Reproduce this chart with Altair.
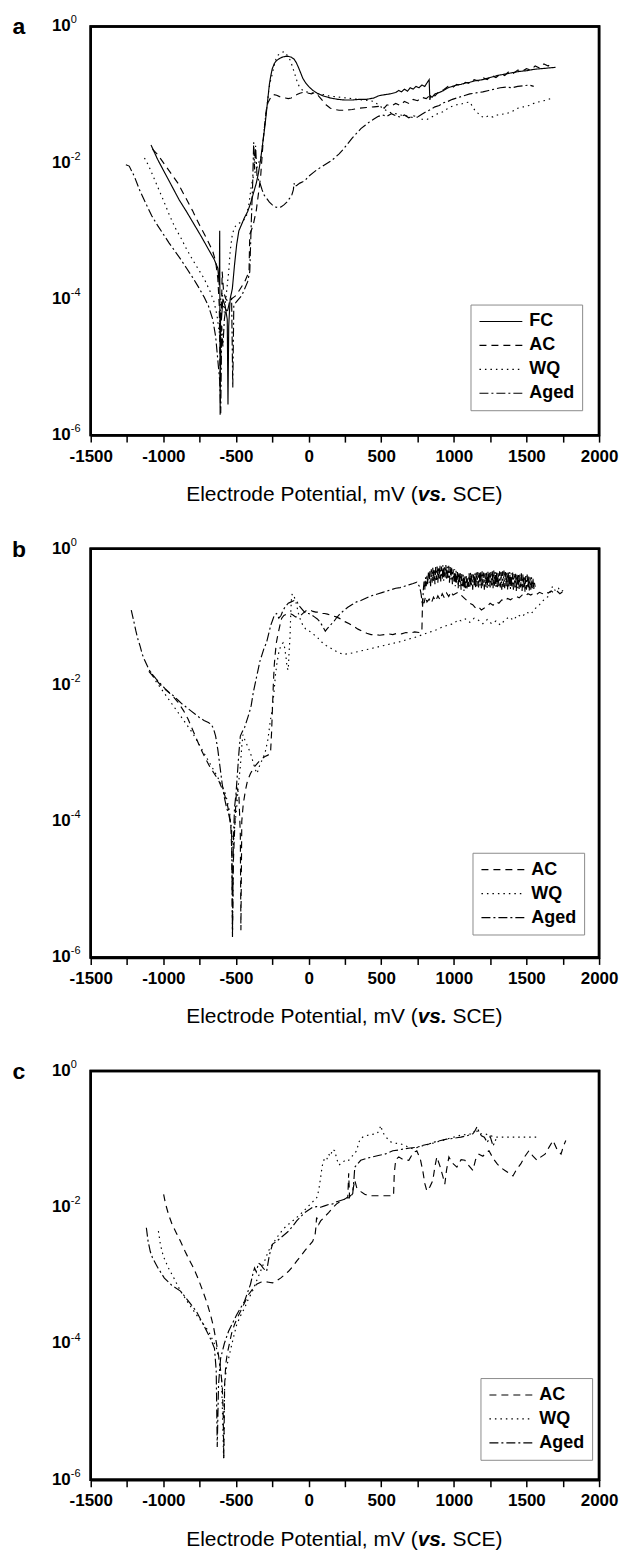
import math
import altair as alt
import pandas as pd

# ---------------- data: (potential mV, log10 current density mA/cm2) ----------------
A_FC = [(-1085,-1.74),(-1040,-1.95),(-990,-2.15),(-940,-2.35),(-890,-2.55),(-840,-2.72),(-790,-2.9),
        (-740,-3.08),(-690,-3.27),(-650,-3.42),(-625,-3.55),(-615,-3.8),(-612,-3.0),(-609,-5.7),(-606,-4.2),
        (-600,-4.3),(-590,-4.0),(-575,-4.1),(-560,-4.3),(-555,-5.55),(-550,-4.4),(-540,-4.0),(-525,-3.85),
        (-510,-3.5),(-495,-3.2),(-480,-3.0),(-460,-2.9),(-440,-2.8),(-420,-2.72),(-400,-2.6),(-380,-2.45),
        (-360,-2.3),(-345,-2.15),(-330,-1.95),(-315,-1.7),(-300,-1.45),(-290,-1.25),(-280,-1.05),(-270,-0.85),
        (-260,-0.72),(-250,-0.62),(-235,-0.54),(-220,-0.5),(-200,-0.47),(-180,-0.45),(-160,-0.44),(-140,-0.44),
        (-120,-0.45),(-100,-0.48),(-85,-0.53),(-70,-0.6),(-55,-0.68),(-40,-0.76),(-20,-0.83),(0,-0.88),(30,-0.94),
        (60,-0.98),(100,-1.02),(150,-1.05),(200,-1.07),(250,-1.08),(300,-1.08),(350,-1.07),(400,-1.07),
        (450,-1.05),(480,-1.02),(500,-1.01),(530,-1.0),(560,-0.99),(600,-0.97),(620,-0.94),(640,-0.96),
        (660,-0.92),(680,-0.95),(700,-0.9),(720,-0.92),(740,-0.88),(760,-0.9),(780,-0.86),(800,-0.88),
        (830,-0.78),(835,-1.08),(840,-1.02),(850,-1.04),(870,-0.99),(900,-0.97),(930,-0.94),(960,-0.9),
        (990,-0.88),(1020,-0.86),(1050,-0.85),(1080,-0.83),(1110,-0.82),(1140,-0.8),(1170,-0.79),(1200,-0.78),
        (1250,-0.75),(1300,-0.72),(1350,-0.7),(1400,-0.68),(1450,-0.66),(1500,-0.65),(1550,-0.63),(1600,-0.62),
        (1650,-0.61),(1700,-0.6)]

A_AC = [(-1075,-1.8),(-1040,-1.88),(-1000,-2.0),(-950,-2.15),(-900,-2.3),(-850,-2.5),(-800,-2.7),(-750,-2.92),
        (-700,-3.12),(-660,-3.3),(-640,-3.45),(-625,-3.7),(-615,-4.1),(-608,-5.3),(-600,-4.2),(-595,-3.6),
        (-585,-3.9),(-570,-4.0),(-550,-4.05),(-530,-4.0),(-500,-3.95),(-470,-3.85),(-440,-3.75),(-420,-3.65),
        (-410,-3.6),(-405,-3.05),(-395,-3.0),(-380,-2.9),(-360,-2.7),(-345,-2.45),(-330,-2.2),(-320,-1.9),
        (-310,-1.6),(-300,-1.4),(-290,-1.2),(-280,-1.12),(-270,-1.08),(-255,-1.02),(-240,-1.0),(-220,-1.01),
        (-200,-1.03),(-180,-1.04),(-160,-1.05),(-140,-1.06),(-120,-1.05),(-100,-1.03),(-80,-1.0),(-60,-0.98),
        (-40,-0.97),(-20,-0.97),(0,-0.98),(20,-0.99),(40,-0.97),(60,-1.0),(80,-1.05),(100,-1.1),(120,-1.15),
        (150,-1.2),(180,-1.22),(210,-1.23),(250,-1.23),(300,-1.22),(350,-1.2),(400,-1.19),(450,-1.18),
        (500,-1.17),(520,-1.2),(540,-1.15),(570,-1.17),(600,-1.13),(630,-1.16),(660,-1.1),(690,-1.13),
        (720,-1.07),(750,-1.09),(780,-1.04),(810,-1.06),(840,-1.0),(870,-1.02),(900,-0.95),(930,-0.93),
        (960,-0.88),(990,-0.9),(1020,-0.85),(1050,-0.87),(1080,-0.82),(1110,-0.84),(1140,-0.78),(1170,-0.8),
        (1200,-0.75),(1230,-0.78),(1260,-0.72),(1290,-0.75),(1320,-0.7),(1350,-0.72),(1380,-0.66),(1410,-0.69),
        (1440,-0.64),(1470,-0.66),(1500,-0.62),(1530,-0.64),(1560,-0.58),(1590,-0.61),(1620,-0.55),(1650,-0.58),
        (1680,-0.52)]

A_WQ = [(-1130,-1.93),(-1100,-2.05),(-1050,-2.3),(-1000,-2.55),(-960,-2.76),(-920,-2.95),(-880,-3.1),
        (-840,-3.27),(-800,-3.42),(-760,-3.56),(-720,-3.7),(-680,-3.88),(-650,-4.05),(-630,-4.25),(-615,-4.5),
        (-605,-4.0),(-595,-3.9),(-580,-4.2),(-565,-3.9),(-550,-3.6),(-540,-3.3),(-525,-3.05),(-510,-2.95),
        (-490,-2.9),(-470,-2.88),(-450,-2.85),(-430,-2.8),(-410,-2.6),(-395,-2.35),(-380,-2.2),(-360,-2.1),
        (-345,-2.0),(-330,-1.95),(-315,-1.7),(-305,-1.5),(-295,-1.3),(-285,-1.15),(-275,-0.95),(-265,-0.82),
        (-255,-0.74),(-240,-0.6),(-225,-0.48),(-210,-0.42),(-195,-0.4),(-180,-0.38),(-168,-0.37),(-155,-0.4),
        (-140,-0.45),(-125,-0.5),(-110,-0.6),(-95,-0.7),(-80,-0.8),(-65,-0.88),(-45,-0.93),(-20,-0.96),
        (10,-0.97),(40,-0.98),(70,-0.99),(100,-1.0),(140,-1.02),(180,-1.03),(220,-1.04),(260,-1.05),
        (300,-1.06),(340,-1.07),(380,-1.08),(420,-1.09),(450,-1.1),(480,-1.15),(510,-1.2),(540,-1.24),
        (570,-1.27),(600,-1.28),(630,-1.3),(660,-1.31),(690,-1.32),(720,-1.34),(750,-1.33),(780,-1.36),
        (810,-1.37),(840,-1.34),(870,-1.3),(900,-1.27),(930,-1.25),(960,-1.2),(990,-1.17),(1020,-1.15),
        (1050,-1.14),(1080,-1.12),(1110,-1.11),(1130,-1.18),(1150,-1.25),(1170,-1.28),(1190,-1.32),
        (1210,-1.34),(1240,-1.31),(1270,-1.33),(1300,-1.3),(1330,-1.29),(1360,-1.28),(1400,-1.25),
        (1440,-1.2),(1480,-1.18),(1520,-1.16),(1560,-1.12),(1600,-1.1),(1640,-1.08),(1680,-1.05)]

A_AGED = [(-1258,-2.03),(-1235,-2.05),(-1200,-2.2),(-1160,-2.42),(-1120,-2.6),(-1080,-2.78),(-1040,-2.92),
          (-1000,-3.05),(-960,-3.18),(-920,-3.3),(-880,-3.42),(-840,-3.55),(-800,-3.68),(-760,-3.82),
          (-720,-3.97),(-690,-4.1),(-660,-4.3),(-640,-4.55),(-625,-4.9),(-612,-5.2),(-605,-5.68),(-598,-4.4),
          (-590,-4.7),(-580,-4.3),(-570,-4.15),(-560,-4.2),(-545,-4.05),(-530,-4.0),(-522,-5.3),(-515,-4.1),
          (-500,-4.05),(-480,-4.0),(-460,-3.95),(-440,-3.85),(-420,-3.75),(-405,-3.6),(-395,-2.9),
          (-385,-2.3),(-378,-1.7),(-372,-2.1),(-365,-1.75),(-355,-2.2),(-345,-2.25),(-335,-2.3),(-320,-2.4),
          (-305,-2.48),(-290,-2.52),(-270,-2.58),(-250,-2.62),(-230,-2.65),(-210,-2.66),(-190,-2.65),
          (-170,-2.62),(-150,-2.58),(-130,-2.52),(-115,-2.47),(-105,-2.4),(-100,-2.3),(-95,-2.35),(-80,-2.33),
          (-60,-2.3),(-40,-2.28),(-20,-2.25),(0,-2.2),(30,-2.15),(60,-2.1),(90,-2.06),(120,-2.02),(150,-1.98),
          (180,-1.93),(210,-1.87),(240,-1.8),(270,-1.72),(300,-1.64),(330,-1.57),(360,-1.5),(390,-1.45),
          (420,-1.4),(450,-1.36),(480,-1.32),(510,-1.3),(540,-1.32),(570,-1.28),(600,-1.31),(630,-1.33),
          (660,-1.3),(690,-1.34),(720,-1.31),(750,-1.33),(780,-1.29),(810,-1.25),(840,-1.22),(870,-1.18),
          (900,-1.16),(930,-1.12),(960,-1.1),(990,-1.07),(1020,-1.05),(1050,-1.03),(1080,-1.01),(1110,-0.99),
          (1140,-0.98),(1170,-0.97),(1200,-0.96),(1240,-0.94),(1280,-0.92),(1320,-0.9),(1360,-0.89),
          (1400,-0.9),(1440,-0.88),(1480,-0.87),(1520,-0.86),(1550,-0.88)]

B_AC = [(-1100,-1.8),(-1060,-1.9),(-1020,-2.0),(-980,-2.08),(-940,-2.15),(-900,-2.25),(-860,-2.38),(-830,-2.5),
        (-800,-2.65),(-770,-2.8),(-740,-2.95),(-710,-3.08),(-680,-3.2),(-650,-3.3),(-620,-3.4),(-600,-3.5),
        (-580,-3.6),(-560,-3.75),(-545,-3.9),(-535,-4.1),(-528,-4.5),(-524,-5.65),(-518,-4.6),(-505,-3.9),
        (-495,-3.5),(-480,-3.6),(-470,-4.2),(-466,-5.6),(-460,-4.0),(-450,-3.75),(-435,-3.55),(-420,-3.4),
        (-400,-3.3),(-380,-3.22),(-360,-3.17),(-340,-3.12),(-320,-3.08),(-300,-3.05),(-280,-3.03),
        (-262,-3.0),(-255,-2.7),(-248,-2.3),(-242,-1.95),(-236,-1.7),(-230,-1.55),(-222,-1.38),(-215,-1.3),
        (-205,-1.2),(-195,-1.1),(-185,-1.02),(-170,-0.98),(-150,-0.96),(-130,-0.95),(-110,-0.97),(-90,-1.0),
        (-70,-1.0),(-50,-0.97),(-30,-0.93),(-10,-0.9),(10,-0.9),(30,-0.92),(50,-0.93),(70,-0.93),(90,-0.95),
        (110,-0.95),(130,-0.96),(160,-0.98),(190,-1.0),(220,-1.03),(250,-1.07),(280,-1.1),(310,-1.14),
        (340,-1.18),(370,-1.21),(400,-1.24),(430,-1.26),(460,-1.26),(490,-1.27),(520,-1.26),(550,-1.25),
        (580,-1.26),(610,-1.24),(640,-1.25),(670,-1.23),(700,-1.24),(730,-1.22),(760,-1.23),(780,-1.22),
        (785,-0.72),(795,-0.8),(805,-0.7),(815,-0.78),(830,-0.74),(845,-0.8),(860,-0.71),(875,-0.77),
        (890,-0.69),(905,-0.75),(920,-0.66),(935,-0.72),(950,-0.65),(965,-0.7),(980,-0.63),(995,-0.68),
        (1010,-0.66),(1030,-0.64),(1050,-0.68),(1070,-0.72),(1090,-0.76),(1110,-0.8),(1130,-0.82),
        (1150,-0.87),(1170,-0.85),(1190,-0.9),(1210,-0.87),(1230,-0.85),(1250,-0.8),(1270,-0.83),(1290,-0.78),
        (1310,-0.8),(1330,-0.75),(1350,-0.77),(1370,-0.73),(1390,-0.75),(1410,-0.72),(1430,-0.7),(1450,-0.72),
        (1470,-0.68),(1490,-0.7),(1510,-0.66),(1530,-0.68),(1550,-0.65),(1570,-0.67),(1590,-0.64),(1610,-0.66),
        (1630,-0.63),(1650,-0.65),(1670,-0.62),(1690,-0.65),(1710,-0.62),(1730,-0.66),(1750,-0.63),(1770,-0.62)]

B_WQ = [(-1090,-1.8),(-1050,-1.95),(-1000,-2.1),(-950,-2.25),(-900,-2.4),(-850,-2.55),(-800,-2.7),(-760,-2.85),
        (-720,-3.0),(-680,-3.15),(-640,-3.3),(-610,-3.42),(-580,-3.55),(-560,-3.7),(-545,-3.85),(-532,-4.1),
        (-520,-4.4),(-510,-4.1),(-495,-3.8),(-485,-3.5),(-470,-3.2),(-460,-2.9),(-452,-2.73),(-440,-2.8),
        (-420,-2.9),(-400,-3.0),(-380,-3.15),(-365,-3.25),(-355,-3.3),(-340,-3.2),(-320,-3.1),(-300,-3.0),
        (-280,-2.8),(-265,-2.55),(-250,-2.35),(-238,-2.1),(-228,-1.85),(-218,-1.68),(-205,-1.52),(-195,-1.45),
        (-185,-1.4),(-175,-1.38),(-165,-1.45),(-155,-1.6),(-148,-1.75),(-140,-1.78),(-135,-1.55),(-128,-1.3),
        (-122,-0.9),(-117,-0.7),(-112,-0.66),(-100,-0.7),(-90,-0.76),(-80,-0.85),(-70,-0.95),(-55,-1.05),
        (-40,-1.12),(-20,-1.18),(0,-1.2),(30,-1.25),(60,-1.3),(90,-1.37),(120,-1.42),(160,-1.47),(200,-1.52),
        (240,-1.55),(280,-1.54),(320,-1.52),(360,-1.5),(400,-1.48),(440,-1.46),(480,-1.44),(520,-1.42),
        (560,-1.4),(600,-1.38),(640,-1.36),(680,-1.33),(720,-1.31),(760,-1.28),(800,-1.25),(840,-1.22),
        (880,-1.19),(920,-1.15),(960,-1.12),(1000,-1.1),(1030,-1.04),(1050,-1.06),(1080,-1.03),(1110,-1.08),
        (1140,-1.02),(1170,-1.05),(1200,-1.1),(1230,-1.04),(1260,-1.1),(1290,-1.06),(1320,-1.12),(1350,-1.05),
        (1380,-1.0),(1410,-1.05),(1440,-0.97),(1470,-1.0),(1500,-0.93),(1530,-0.96),(1560,-0.88),(1590,-0.82),
        (1620,-0.75),(1650,-0.7),(1680,-0.55),(1700,-0.62),(1720,-0.58),(1740,-0.63),(1760,-0.6)]

B_AGED = [(-1221,-0.9),(-1205,-1.05),(-1190,-1.2),(-1175,-1.33),(-1160,-1.43),(-1145,-1.55),(-1130,-1.63),
          (-1115,-1.7),(-1100,-1.77),(-1085,-1.82),(-1070,-1.86),(-1050,-1.91),(-1020,-1.98),(-990,-2.05),
          (-960,-2.11),(-930,-2.16),(-900,-2.22),(-870,-2.28),(-840,-2.33),(-810,-2.38),(-780,-2.43),
          (-750,-2.48),(-720,-2.52),(-690,-2.55),(-670,-2.58),(-655,-2.64),(-640,-2.75),(-625,-2.95),
          (-610,-3.2),(-595,-3.45),(-580,-3.65),(-565,-3.8),(-550,-3.9),(-540,-4.0),(-530,-4.15),(-524,-5.7),
          (-518,-4.3),(-510,-3.8),(-500,-3.6),(-490,-3.3),(-480,-3.0),(-470,-2.75),(-455,-2.68),(-440,-2.62),
          (-425,-2.52),(-410,-2.42),(-395,-2.3),(-380,-2.1),(-365,-1.95),(-350,-1.8),(-335,-1.65),(-320,-1.55),
          (-305,-1.45),(-290,-1.38),(-275,-1.25),(-260,-1.12),(-248,-1.05),(-235,-0.97),(-220,-0.95),
          (-205,-1.02),(-190,-0.98),(-175,-0.9),(-160,-0.85),(-140,-0.8),(-120,-0.78),(-100,-0.76),(-80,-0.78),
          (-60,-0.85),(-40,-0.9),(-20,-0.95),(0,-0.95),(20,-0.97),(40,-1.0),(60,-1.03),(80,-1.08),(100,-1.15),
          (115,-1.21),(130,-1.17),(150,-1.12),(170,-1.08),(190,-1.02),(210,-0.97),(240,-0.91),(270,-0.86),
          (300,-0.82),(330,-0.78),(360,-0.76),(390,-0.73),(420,-0.7),(450,-0.68),(480,-0.66),(510,-0.64),
          (540,-0.62),(570,-0.6),(600,-0.58),(630,-0.57),(660,-0.55),(690,-0.53),(720,-0.51),(745,-0.49),
          (765,-0.56),(775,-0.67),(785,-0.85),(790,-0.6),(795,-0.48),(800,-0.6),(805,-0.42),(810,-0.55),
          (815,-0.38),(820,-0.52),(825,-0.35),(830,-0.5),(835,-0.33),(840,-0.55),(845,-0.3),(850,-0.5),
          (855,-0.28),(860,-0.48),(865,-0.3),(870,-0.52),(875,-0.27),(880,-0.46),(885,-0.26),(890,-0.5),
          (895,-0.27),(900,-0.45),(905,-0.25),(910,-0.48),(915,-0.26),(920,-0.44),(925,-0.24),(930,-0.47),
          (935,-0.25),(940,-0.42),(945,-0.24),(950,-0.46),(955,-0.26),(960,-0.43),(965,-0.25),(970,-0.5),
          (975,-0.27),(980,-0.45),(985,-0.28),(990,-0.52),(995,-0.3),(1000,-0.48),(1005,-0.3),(1010,-0.55),
          (1015,-0.32),(1020,-0.5),(1025,-0.34),(1030,-0.58),(1035,-0.35),(1040,-0.55),(1045,-0.36),(1050,-0.6),
          (1055,-0.37),(1060,-0.55),(1065,-0.38),(1070,-0.62),(1075,-0.4),(1080,-0.58),(1085,-0.4),(1090,-0.6),
          (1095,-0.42),(1100,-0.56),(1105,-0.36),(1110,-0.58),(1115,-0.35),(1120,-0.55),(1125,-0.37),
          (1130,-0.6),(1135,-0.38),(1140,-0.56),(1145,-0.36),(1150,-0.58),(1155,-0.35),(1160,-0.55),
          (1165,-0.34),(1170,-0.57),(1175,-0.35),(1180,-0.54),(1185,-0.34),(1190,-0.58),(1195,-0.33),
          (1200,-0.55),(1205,-0.35),(1210,-0.6),(1215,-0.36),(1220,-0.56),(1225,-0.34),(1230,-0.58),
          (1235,-0.33),(1240,-0.55),(1245,-0.35),(1250,-0.57),(1255,-0.34),(1260,-0.54),(1265,-0.33),
          (1270,-0.58),(1275,-0.32),(1280,-0.55),(1285,-0.34),(1290,-0.56),(1295,-0.33),(1300,-0.58),
          (1305,-0.35),(1310,-0.55),(1315,-0.33),(1320,-0.57),(1325,-0.34),(1330,-0.6),(1335,-0.33),
          (1340,-0.56),(1345,-0.32),(1350,-0.58),(1355,-0.34),(1360,-0.55),(1365,-0.33),(1370,-0.6),
          (1375,-0.35),(1380,-0.57),(1385,-0.34),(1390,-0.59),(1395,-0.36),(1400,-0.56),(1405,-0.35),
          (1410,-0.6),(1415,-0.37),(1420,-0.57),(1425,-0.36),(1430,-0.62),(1435,-0.38),(1440,-0.58),
          (1445,-0.37),(1450,-0.6),(1455,-0.38),(1460,-0.57),(1465,-0.36),(1470,-0.62),(1475,-0.38),
          (1480,-0.58),(1485,-0.4),(1490,-0.63),(1495,-0.4),(1500,-0.6),(1505,-0.38),(1510,-0.58),
          (1515,-0.4),(1520,-0.62),(1525,-0.42),(1530,-0.6),(1535,-0.42),(1540,-0.58),(1545,-0.44),
          (1550,-0.6),(1555,-0.5),(1560,-0.56)]

C_AC = [(-998,-1.81),(-985,-1.95),(-965,-2.1),(-940,-2.25),(-910,-2.38),(-882,-2.5),(-850,-2.65),(-820,-2.78),
        (-790,-2.9),(-760,-3.05),(-730,-3.22),(-700,-3.4),(-675,-3.58),(-655,-3.75),(-638,-3.95),(-622,-4.15),
        (-608,-4.35),(-595,-4.6),(-588,-5.0),(-584,-5.69),(-578,-4.6),(-570,-4.3),(-560,-4.15),(-545,-4.0),
        (-530,-3.85),(-510,-3.72),(-490,-3.62),(-469,-3.53),(-445,-3.42),(-413,-3.28),(-385,-3.2),(-358,-3.13),
        (-330,-3.1),(-303,-3.09),(-275,-3.1),(-248,-3.11),(-220,-3.08),(-193,-3.04),(-165,-2.99),(-138,-2.94),
        (-110,-2.87),(-82,-2.79),(-55,-2.72),(-27,-2.64),(0,-2.57),(28,-2.5),(45,-2.4),(50,-2.3),(55,-2.15),
        (61,-2.18),(70,-2.25),(83,-2.2),(110,-2.14),(138,-2.08),(165,-2.01),(193,-1.95),(221,-1.91),
        (249,-1.88),(270,-1.85),(276,-1.5),(282,-1.85),(304,-1.76),(318,-1.6),(331,-1.71),(360,-1.77),
        (386,-1.81),(420,-1.83),(469,-1.83),(520,-1.83),(560,-1.83),(585,-1.83),(590,-1.5),(600,-1.3),
        (621,-1.26),(650,-1.3),(690,-1.31),(720,-1.2),(745,-1.17),(770,-1.3),(786,-1.46),(800,-1.65),
        (814,-1.76),(835,-1.7),(855,-1.61),(870,-1.4),(883,-1.26),(905,-1.4),(925,-1.55),(938,-1.66),
        (950,-1.45),(966,-1.26),(990,-1.35),(1021,-1.41),(1050,-1.3),(1076,-1.31),(1100,-1.38),(1131,-1.46),
        (1150,-1.3),(1173,-1.22),(1200,-1.25),(1220,-1.2),(1242,-1.17),(1270,-1.28),(1297,-1.36),(1325,-1.42),
        (1352,-1.46),(1380,-1.5),(1407,-1.54),(1430,-1.45),(1462,-1.36),(1490,-1.25),(1517,-1.17),(1545,-1.25),
        (1573,-1.31),(1600,-1.26),(1628,-1.22),(1655,-1.12),(1683,-1.02),(1710,-1.15),(1738,-1.22),
        (1755,-1.1),(1771,-1.02)]

C_WQ = [(-1034,-2.35),(-1020,-2.55),(-1000,-2.72),(-965,-2.89),(-925,-3.05),(-882,-3.23),(-830,-3.4),
        (-772,-3.58),(-730,-3.7),(-689,-3.82),(-660,-3.95),(-634,-4.07),(-615,-4.25),(-600,-4.5),(-593,-5.0),
        (-585,-5.7),(-578,-4.6),(-565,-4.35),(-551,-4.22),(-525,-3.98),(-496,-3.73),(-470,-3.6),(-441,-3.48),
        (-415,-3.35),(-386,-3.23),(-358,-3.08),(-331,-2.94),(-303,-2.79),(-276,-2.64),(-248,-2.54),
        (-220,-2.45),(-193,-2.37),(-165,-2.3),(-138,-2.25),(-110,-2.2),(-82,-2.15),(-55,-2.1),(-27,-2.04),
        (0,-1.98),(28,-1.92),(56,-1.86),(70,-1.75),(83,-1.56),(90,-1.45),(97,-1.36),(110,-1.28),(125,-1.3),
        (138,-1.22),(150,-1.25),(165,-1.15),(180,-1.17),(195,-1.3),(210,-1.38),(221,-1.36),(240,-1.33),
        (260,-1.3),(276,-1.31),(300,-1.25),(331,-1.17),(345,-1.05),(359,-0.99),(380,-0.96),(414,-0.94),
        (440,-0.93),(469,-0.92),(485,-0.88),(497,-0.8),(510,-0.9),(524,-0.94),(545,-1.0),(566,-1.04),
        (600,-1.06),(635,-1.07),(670,-1.1),(700,-1.13),(717,-1.14),(750,-1.12),(780,-1.1),(800,-1.09),
        (840,-1.07),(883,-1.04),(920,-1.02),(966,-0.99),(1000,-0.97),(1049,-0.94),(1090,-0.93),(1131,-0.92),
        (1150,-0.85),(1170,-0.92),(1214,-0.92),(1250,-0.95),(1297,-0.97),(1350,-0.97),(1407,-0.97),
        (1460,-0.97),(1517,-0.97),(1560,-0.97),(1586,-0.97)]

C_AGED = [(-1117,-2.3),(-1105,-2.5),(-1090,-2.65),(-1075,-2.74),(-1040,-2.88),(-993,-3.04),(-940,-3.15),
          (-882,-3.23),(-830,-3.37),(-772,-3.53),(-730,-3.7),(-689,-3.87),(-665,-3.98),(-648,-4.07),
          (-636,-4.4),(-629,-5.52),(-620,-4.6),(-606,-4.22),(-580,-4.0),(-551,-3.82),(-523,-3.7),(-496,-3.58),
          (-469,-3.48),(-441,-3.38),(-420,-3.25),(-400,-3.13),(-386,-3.0),(-372,-2.89),(-360,-2.95),
          (-345,-2.82),(-331,-2.84),(-310,-2.9),(-289,-2.94),(-270,-2.7),(-248,-2.54),(-220,-2.5),(-193,-2.45),
          (-165,-2.4),(-138,-2.35),(-110,-2.28),(-82,-2.2),(-55,-2.14),(-27,-2.08),(0,-2.04),(28,-2.0),
          (56,-1.99),(83,-2.0),(110,-1.98),(138,-1.96),(166,-1.95),(193,-1.92),(221,-1.9),(249,-1.88),
          (276,-1.86),(290,-1.84),(304,-1.8),(312,-1.6),(318,-1.41),(330,-1.38),(359,-1.31),(400,-1.28),
          (442,-1.26),(480,-1.24),(524,-1.22),(550,-1.2),(580,-1.17),(620,-1.16),(662,-1.14),(700,-1.13),
          (745,-1.12),(790,-1.09),(828,-1.07),(870,-1.04),(910,-1.02),(950,-1.0),(993,-0.99),(1020,-0.98),
          (1049,-0.97),(1090,-0.95),(1131,-0.92),(1145,-0.88),(1159,-0.82),(1175,-0.9),(1190,-0.95),
          (1210,-0.97),(1230,-1.05),(1250,-0.96),(1270,-1.1),(1290,-1.0)]

DASHES = {"FC": [1, 0], "AC": [7, 5], "WQ": [1.5, 4], "Aged": [9, 3, 2, 3]}
X_TICKS = list(range(-1500, 2001, 250))
Y_EXPONENTS = [0, -2, -4, -6]
Y_EXP_TEXT = ["0", "-2", "-4", "-6"]

FONT = "Liberation Sans"
W, H = 510, 410


def frame(series):
    rows = []
    for name, pts in series:
        for i, (mv, lj) in enumerate(pts):
            rows.append({"series": name, "mv": mv, "logj": lj, "idx": i})
    return pd.DataFrame(rows)


# tick positions of a log axis (1..9 x 10^n), expressed in log10 units
y_tick_vals = [0.0]
for n in range(-6, 0):
    for k in range(1, 10):
        y_tick_vals.append(n + math.log10(k))

Y_SCALE = alt.Scale(domain=[-6, 0], nice=False, zero=False)


def panel(letter, series, lx, ly):
    names = [n for n, _ in series]
    df = frame(series)
    lines = alt.Chart(df).mark_line(color="black", strokeWidth=1.15).encode(
        x=alt.X("mv:Q", scale=alt.Scale(domain=[-1500, 2000], nice=False, zero=False),
                axis=alt.Axis(values=X_TICKS, title=None, domain=True, ticks=True,
                              labelExpr="datum.value % 500 == 0 ? datum.value : ''",
                              tickSize=7, labelPadding=6, labelFontSize=17, labelFontWeight="bold",
                              labelFont=FONT, labelColor="black", tickColor="black", tickWidth=1.5,
                              domainColor="black", domainWidth=2.5, grid=False, labelFlush=False,
                              labelOverlap=False)),
        y=alt.Y("logj:Q", scale=Y_SCALE,
                axis=alt.Axis(values=y_tick_vals, labels=False, domain=True, ticks=True,
                              title="Log Current Density, mA / cm²",
                              titleFont=FONT, titleFontSize=20, titleFontWeight="bold", titleColor="black",
                              titlePadding=61,
                              tickSize=5, tickColor="black", tickWidth=1.5,
                              domainColor="black", domainWidth=2.5, grid=False)),
        strokeDash=alt.StrokeDash("series:N",
                                  scale=alt.Scale(domain=names, range=[DASHES[n] for n in names]),
                                  legend=alt.Legend(title=None, orient="none", legendX=lx, legendY=ly,
                                                    symbolType="M-8,0H35", symbolSize=4,
                                                    symbolStrokeColor="black", symbolStrokeWidth=1.2,
                                                    labelFont=FONT, labelFontSize=18, labelFontWeight="bold",
                                                    labelColor="black", labelOffset=33, rowPadding=6,
                                                    padding=8, strokeColor="#8c8c8c", fillColor="white")),
        order="idx:Q",
    )

    border = alt.Chart(pd.DataFrame({"t": [0]})).mark_rect(
        filled=False, stroke="black", strokeWidth=2.5).encode(
        x=alt.value(0), x2=alt.value(W), y=alt.value(0), y2=alt.value(H))

    lab_df = pd.DataFrame({"logj": Y_EXPONENTS, "txt": Y_EXP_TEXT, "ten": ["10"] * 4})
    tens = alt.Chart(lab_df).mark_text(align="right", baseline="middle", fontSize=17, fontWeight="bold",
                                       font=FONT, color="black").encode(
        x=alt.value(-20), y=alt.Y("logj:Q", scale=Y_SCALE, axis=None), text="ten:N")
    exps = alt.Chart(lab_df).mark_text(align="left", baseline="bottom", fontSize=11, font=FONT,
                                       color="black", dy=-1).encode(
        x=alt.value(-20), y=alt.Y("logj:Q", scale=Y_SCALE, axis=None), text="txt:N")

    let = alt.Chart(pd.DataFrame({"t": [letter]})).mark_text(
        fontSize=23, fontWeight="bold", font=FONT, align="center", baseline="alphabetic", color="black"
    ).encode(x=alt.value(-72), y=alt.value(8), text="t:N")

    ty = H + 60
    t1 = alt.Chart(pd.DataFrame({"t": ["Electrode Potential, mV ("]})).mark_text(
        fontSize=21, font=FONT, align="right", baseline="middle", color="black").encode(
        x=alt.value(W / 2 + 73), y=alt.value(ty), text="t:N")
    t2 = alt.Chart(pd.DataFrame({"t": ["vs."]})).mark_text(
        fontSize=21, font=FONT, fontStyle="italic", fontWeight="bold", align="left", baseline="middle",
        color="black").encode(x=alt.value(W / 2 + 73), y=alt.value(ty), text="t:N")
    t3 = alt.Chart(pd.DataFrame({"t": ["SCE)"]})).mark_text(
        fontSize=21, font=FONT, align="left", baseline="middle", color="black").encode(
        x=alt.value(W / 2 + 108), y=alt.value(ty), text="t:N")

    return alt.layer(lines, border, tens, exps, let, t1, t2, t3).properties(width=W, height=H)


pa = panel("a", [("FC", A_FC), ("AC", A_AC), ("WQ", A_WQ), ("Aged", A_AGED)], 381, 279)
pb = panel("b", [("AC", B_AC), ("WQ", B_WQ), ("Aged", B_AGED)], 383, 305)
pc = panel("c", [("AC", C_AC), ("WQ", C_WQ), ("Aged", C_AGED)], 391, 308)

chart = alt.vconcat(pa, pb, pc, spacing=28).resolve_scale(
    strokeDash="independent").resolve_legend(strokeDash="independent").properties(
    padding={"left": 2, "top": 2, "right": 2, "bottom": 0}
).configure_view(stroke="black", strokeWidth=2.5)

chart.save("out.html", embed_options={"renderer": "svg", "actions": False})
